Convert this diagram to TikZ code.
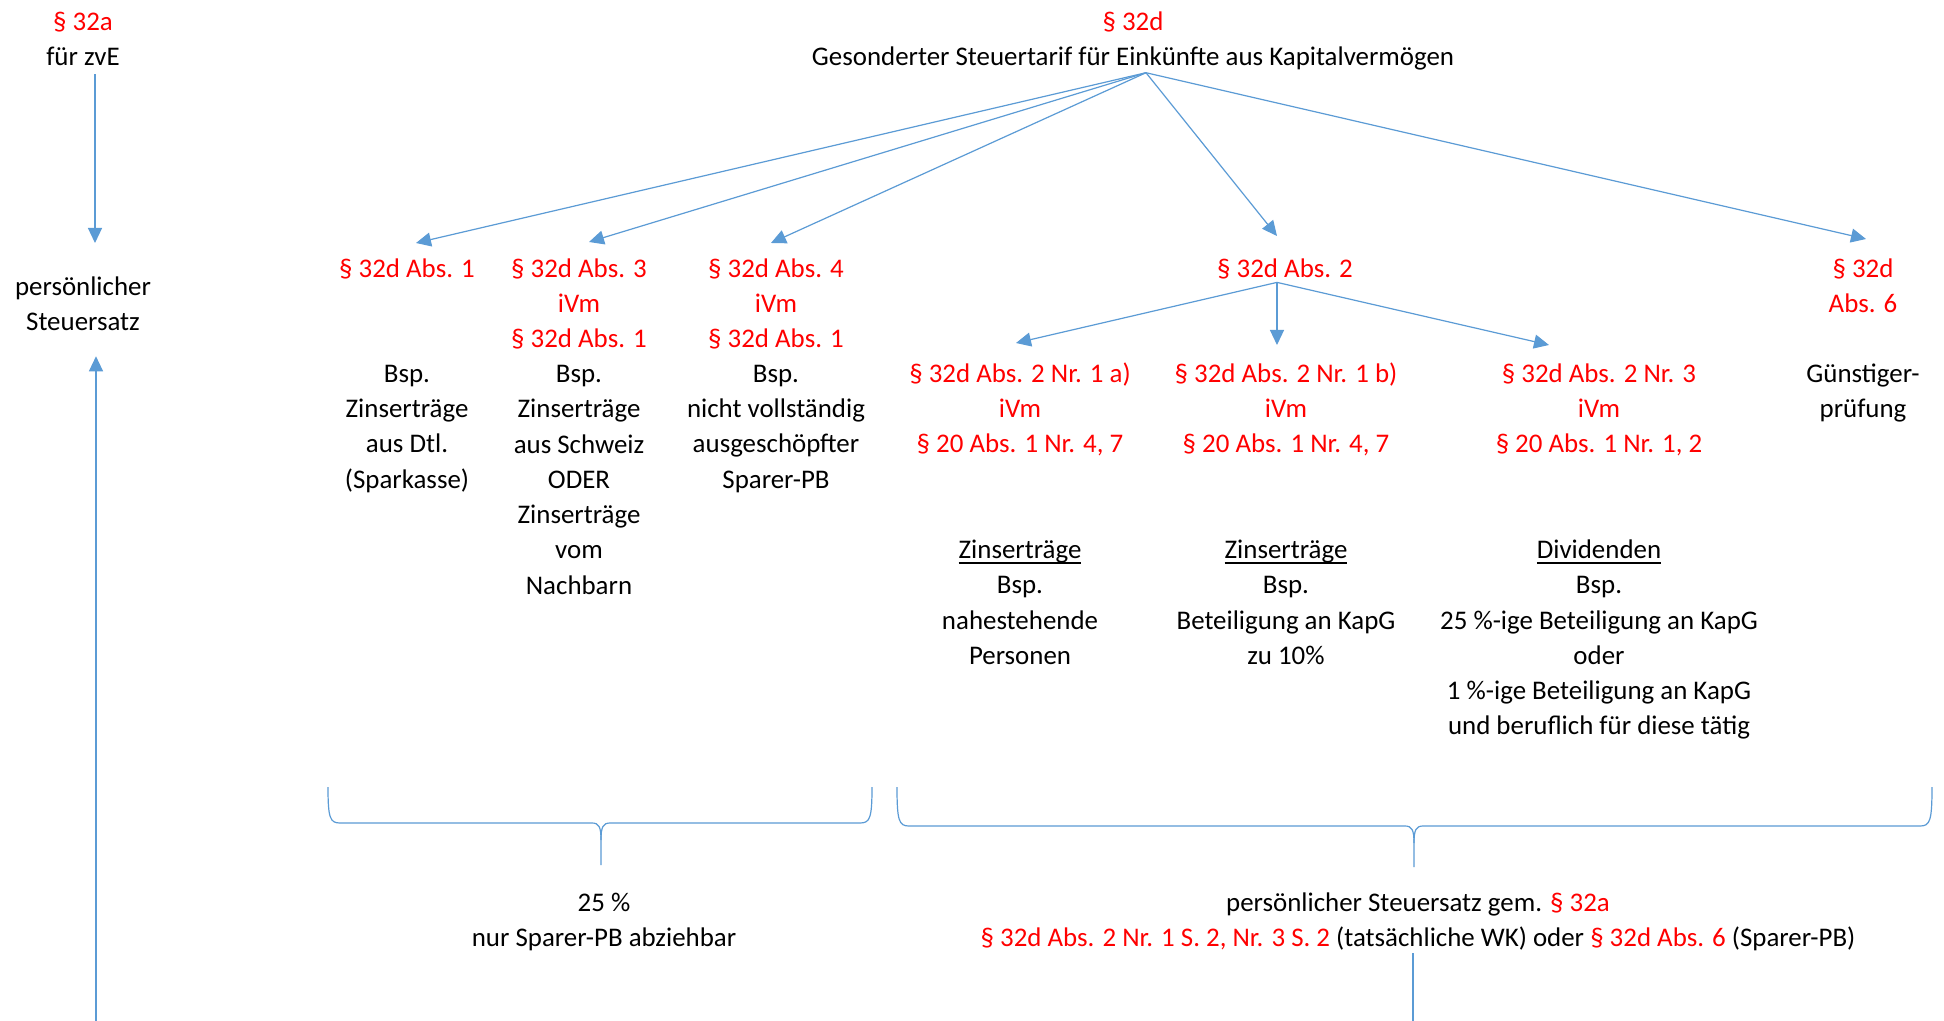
\documentclass[tikz,border=0pt]{standalone}
\usepackage{fontspec}
\setmainfont{Carlito}
\usetikzlibrary{arrows.meta,calc}
\definecolor{linkblue}{RGB}{91,155,213}
\definecolor{lawred}{RGB}{255,0,0}
% word with a close underline that cuts through the descenders
\newcommand\ulword[1]{\setbox0\hbox{#1}\rlap{\rule[-2.6pt]{\wd0}{0.8pt}}\box0}
\newcommand\lawref[1]{\textcolor{lawred}{#1}}
% fixed height of the first line, so that every block hangs from its top the same way
\newcommand\fl{\rule{0pt}{13pt}}

\begin{document}
\begin{tikzpicture}[x=0.5pt,y=-0.5pt,
  txt/.style={anchor=north, inner sep=0pt, align=center,
    font=\fontsize{13.45}{17.65}\selectfont},
  ref/.style={txt, text=lawred},
  lnk/.style={draw=linkblue, line width=0.6pt},
  arr/.style={lnk, -{Triangle[length=7.5pt,width=7pt]}},
]
\useasboundingbox[fill=white] (0,0) rectangle (1944,1021);

% left column
\node[txt] (n32a) at (83,4) {\fl\lawref{§ 32a}\\für zvE};
\node[txt] (pst) at (83,269) {\fl persönlicher\\Steuersatz};

% head of the tree
\node[txt] (top) at (1133,4) {\fl\lawref{§ 32d}\\Gesonderter Steuertarif für Einkünfte aus Kapitalvermögen};

% second level
\node[ref] (a1) at (407,251) {\fl§ 32d Abs. 1};
\node[ref] (a3) at (579,251) {\fl§ 32d Abs. 3\\iVm\\§ 32d Abs. 1};
\node[ref] (a4) at (776,251) {\fl§ 32d Abs. 4\\iVm\\§ 32d Abs. 1};
\node[ref] (a2) at (1285,251) {\fl§ 32d Abs. 2};
\node[ref] (a6) at (1863,251) {\fl§ 32d\\Abs. 6};

\node[txt] (ex1) at (407,356) {\fl Bsp.\\Zinserträge\\aus Dtl.\\(Sparkasse)};
\node[txt] (ex3) at (579,356) {\fl Bsp.\\Zinserträge\\aus Schweiz\\ODER\\Zinserträge\\vom\\Nachbarn};
\node[txt] (ex4) at (776,356) {\fl Bsp.\\nicht vollständig\\ausgeschöpfter\\Sparer-PB};
\node[txt] (ex6) at (1863,356) {\fl Günstiger-\\prüfung};

% third level below Abs. 2
\node[ref] (b1) at (1020,356) {\fl§ 32d Abs. 2 Nr. 1 a)\\iVm\\§ 20 Abs. 1 Nr. 4, 7};
\node[ref] (b2) at (1286,356) {\fl§ 32d Abs. 2 Nr. 1 b)\\iVm\\§ 20 Abs. 1 Nr. 4, 7};
\node[ref] (b3) at (1599,356) {\fl§ 32d Abs. 2 Nr. 3\\iVm\\§ 20 Abs. 1 Nr. 1, 2};

\node[txt] (c1) at (1020,532) {\fl\ulword{Zinserträge}\\Bsp.\\nahestehende\\Personen};
\node[txt] (c2) at (1286,532) {\fl\ulword{Zinserträge}\\Bsp.\\Beteiligung an KapG\\zu 10\%};
\node[txt] (c3) at (1599,532) {\fl\ulword{Dividenden}\\Bsp.\\25 \%-ige Beteiligung an KapG\\oder\\1 \%-ige Beteiligung an KapG\\und beruflich für diese tätig};

% results
\node[txt] (bot1) at (604,885) {\fl 25 \%\\nur Sparer-PB abziehbar};
\node[txt] (bot2) at (1418,885) {\fl persönlicher Steuersatz gem. \lawref{§ 32a}\\
  \lawref{§ 32d Abs. 2 Nr. 1 S. 2, Nr. 3 S. 2} (tatsächliche WK) oder \lawref{§ 32d Abs. 6} (Sparer-PB)};

% connectors
\coordinate (topout) at ($(top.south)+(13,2)$);
\coordinate (a2out) at ($(a2.south)+(-8,3)$);
\coordinate (lowleft) at (96,1021);
\coordinate (botout) at ($(bot2.south)+(-5,2)$);

\draw[arr] ($(n32a.south)+(12,8)$) -- ($(pst.north)+(12,-26)$);
\draw[arr] (lowleft) -- ($(pst.south)+(13,25)$);

\draw[arr] (topout) -- ($(a1.north)+(9,-8)$);
\draw[arr] (topout) -- ($(a3.north)+(10,-9)$);
\draw[arr] (topout) -- ($(a4.north)+(-5,-8)$);
\draw[arr] (topout) -- ($(a2.north)+(-8,-15)$);
\draw[arr] (topout) -- ($(a6.north)+(3,-12)$);

\draw[arr] (a2out) -- ($(b1.north)+(-4,-13)$);
\draw[arr] (a2out) -- ($(b2.north)+(-9,-11)$);
\draw[arr] (a2out) -- ($(b3.north)+(-50,-11)$);

\draw[lnk] (botout) -- (botout |- lowleft);

% curly brackets over the two groups
\draw[lnk] (328,787) .. controls (328,818) and (330,823) .. (340,823) -- (592,823)
  .. controls (599,823) and (601,827) .. (601,840) -- (601,865);
\draw[lnk] (872,787) .. controls (872,818) and (870,823) .. (860,823) -- (610,823)
  .. controls (603,823) and (601,827) .. (601,840);
\draw[lnk] (897,787) .. controls (897,821) and (899,826) .. (909,826) -- (1405,826)
  .. controls (1412,826) and (1414,830) .. (1414,843) -- (1414,867);
\draw[lnk] (1932,787) .. controls (1932,821) and (1930,826) .. (1920,826) -- (1423,826)
  .. controls (1416,826) and (1414,830) .. (1414,843);
\end{tikzpicture}
\end{document}
